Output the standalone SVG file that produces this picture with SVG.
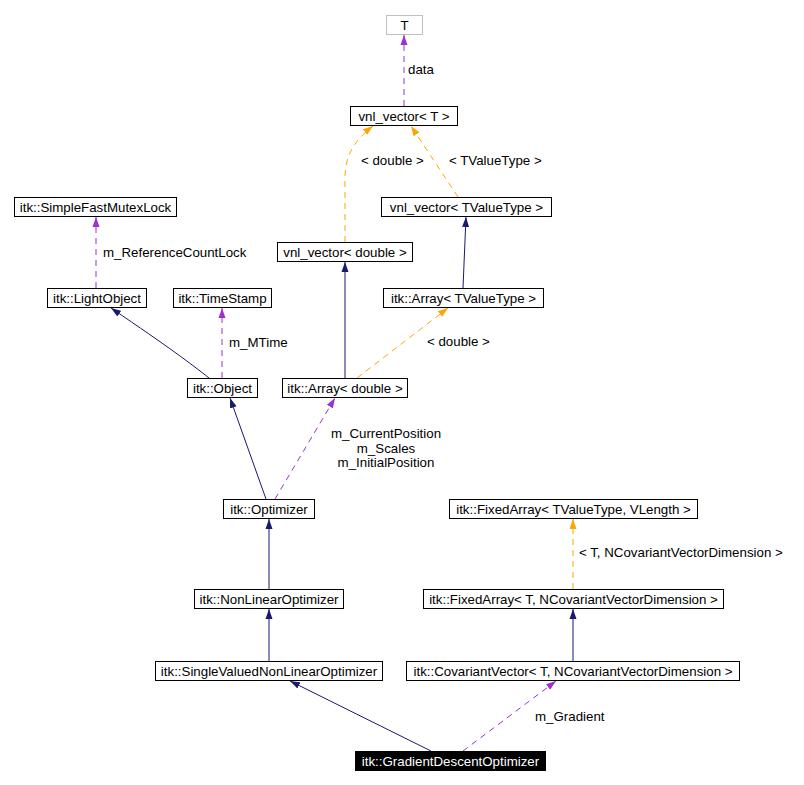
<svg xmlns="http://www.w3.org/2000/svg" width="804" height="785" viewBox="0 0 804 785">
<style>
  .box { fill: #ffffff; stroke: #000000; stroke-width: 1; }
  .gray { fill: #ffffff; stroke: #bfbfbf; stroke-width: 1; }
  .blk { fill: #000000; stroke: #000000; stroke-width: 1; }
  text { font-family: "Liberation Sans", Arial, sans-serif; font-size: 13.3px; fill: #000000; }
  .nt { text-anchor: middle; }
  .wt { fill: #ffffff; }
  .inh { fill: none; stroke: #191970; stroke-width: 1; marker-end: url(#aN); }
  .use { fill: none; stroke: #9a32cd; stroke-width: 1; stroke-dasharray: 6,5; marker-end: url(#aP); }
  .tpl { fill: none; stroke: #ffa500; stroke-width: 1; stroke-dasharray: 6,5; marker-end: url(#aO); }
</style>
<defs>
  <marker id="aN" markerUnits="userSpaceOnUse" markerWidth="11" markerHeight="8" refX="10" refY="4" orient="auto"><path d="M0,0.5 L10,4 L0,7.5 z" fill="#191970"/></marker>
  <marker id="aP" markerUnits="userSpaceOnUse" markerWidth="11" markerHeight="8" refX="10" refY="4" orient="auto"><path d="M0,0.5 L10,4 L0,7.5 z" fill="#9a32cd"/></marker>
  <marker id="aO" markerUnits="userSpaceOnUse" markerWidth="11" markerHeight="8" refX="10" refY="4" orient="auto"><path d="M0,0.5 L10,4 L0,7.5 z" fill="#ffa500"/></marker>
</defs>
<rect width="804" height="785" fill="#ffffff"/>
<g id="connectors">
  <path class="use" d="M404,106 L404,35"/>
  <text x="408" y="74">data</text>
  <path class="tpl" d="M345,242 L345,178 C345,158 352,142 373,126"/>
  <text x="361" y="165">&lt; double &gt;</text>
  <path class="tpl" d="M458,197 L411,126"/>
  <text x="449" y="165">&lt; TValueType &gt;</text>
  <path class="inh" d="M463,288 L466,217"/>
  <path class="inh" d="M345,378 L345,262"/>
  <path class="tpl" d="M357,378 L448,308"/>
  <text x="427" y="346">&lt; double &gt;</text>
  <path class="use" d="M96,288 L96,217"/>
  <text x="103" y="257">m_ReferenceCountLock</text>
  <path class="inh" d="M209,378 C190,363 170,348 111,308"/>
  <path class="use" d="M222,378 L222,308"/>
  <text x="229" y="347">m_MTime</text>
  <path class="inh" d="M266,499 L230,398"/>
  <path class="use" d="M275,499 L335,398"/>
  <text class="nt" x="386" y="438">m_CurrentPosition</text>
  <text class="nt" x="386" y="453">m_Scales</text>
  <text class="nt" x="386" y="467">m_InitialPosition</text>
  <path class="inh" d="M269,589 L269,519"/>
  <path class="inh" d="M269,661 L269,609"/>
  <path class="tpl" d="M573,589 L573,519"/>
  <text x="579" y="557">&lt; T, NCovariantVectorDimension &gt;</text>
  <path class="inh" d="M573,661 L573,609"/>
  <path class="inh" d="M431,751 L290,681"/>
  <path class="use" d="M463,751 L556,681"/>
  <text x="535" y="721">m_Gradient</text>
</g>
<g id="n_T"><rect class="gray" x="386.5" y="15.5" width="36" height="19"/><text class="nt" x="404.5" y="30">T</text></g>
<g id="n_vnlT"><rect class="box" x="350.5" y="106.5" width="107" height="19"/><text class="nt" x="404" y="121">vnl_vector&lt; T &gt;</text></g>
<g id="n_vnlTV"><rect class="box" x="381.5" y="197.5" width="170" height="19"/><text class="nt" x="466.5" y="212">vnl_vector&lt; TValueType &gt;</text></g>
<g id="n_mutex"><rect class="box" x="14.5" y="197.5" width="162" height="19"/><text class="nt" x="95.5" y="212">itk::SimpleFastMutexLock</text></g>
<g id="n_vnld"><rect class="box" x="277.5" y="242.5" width="135" height="19"/><text class="nt" x="345" y="257">vnl_vector&lt; double &gt;</text></g>
<g id="n_light"><rect class="box" x="47.5" y="288.5" width="99" height="19"/><text class="nt" x="97" y="303">itk::LightObject</text></g>
<g id="n_time"><rect class="box" x="173.5" y="288.5" width="98" height="19"/><text class="nt" x="222.5" y="303">itk::TimeStamp</text></g>
<g id="n_arrTV"><rect class="box" x="383.5" y="288.5" width="160" height="19"/><text class="nt" x="463.5" y="303">itk::Array&lt; TValueType &gt;</text></g>
<g id="n_obj"><rect class="box" x="187.5" y="378.5" width="70" height="19"/><text class="nt" x="222.5" y="393">itk::Object</text></g>
<g id="n_arrd"><rect class="box" x="282.5" y="378.5" width="125" height="19"/><text class="nt" x="345" y="393">itk::Array&lt; double &gt;</text></g>
<g id="n_opt"><rect class="box" x="223.5" y="499.5" width="91" height="19"/><text class="nt" x="269" y="514">itk::Optimizer</text></g>
<g id="n_fixTV"><rect class="box" x="449.5" y="499.5" width="248" height="19"/><text class="nt" x="573.5" y="514">itk::FixedArray&lt; TValueType, VLength &gt;</text></g>
<g id="n_nlopt"><rect class="box" x="194.5" y="589.5" width="149" height="19"/><text class="nt" x="269" y="604">itk::NonLinearOptimizer</text></g>
<g id="n_fixTN"><rect class="box" x="423.5" y="589.5" width="300" height="19"/><text class="nt" x="573.5" y="604">itk::FixedArray&lt; T, NCovariantVectorDimension &gt;</text></g>
<g id="n_svopt"><rect class="box" x="155.5" y="661.5" width="227" height="19"/><text class="nt" x="269" y="676">itk::SingleValuedNonLinearOptimizer</text></g>
<g id="n_covec"><rect class="box" x="406.5" y="661.5" width="333" height="19"/><text class="nt" x="573" y="676">itk::CovariantVector&lt; T, NCovariantVectorDimension &gt;</text></g>
<g id="n_gdopt"><rect class="blk" x="355.5" y="751.5" width="190" height="19"/><text class="nt wt" x="450.5" y="766">itk::GradientDescentOptimizer</text></g>
</svg>
